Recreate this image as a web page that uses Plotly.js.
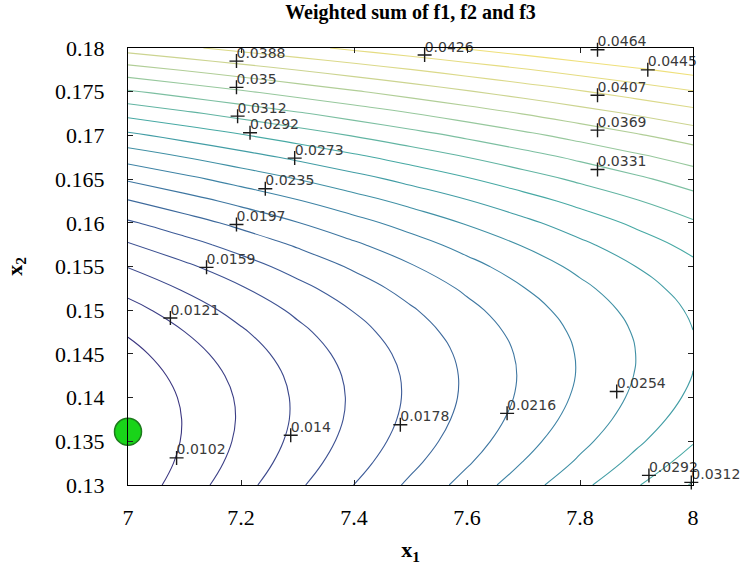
<!DOCTYPE html>
<html>
<head>
<meta charset="utf-8">
<script src="https://cdn.plot.ly/plotly-3.0.1.min.js"></script>
<style>
  html, body { margin: 0; padding: 0; background: #ffffff; }
  #chart { width: 741px; height: 565px; }
</style>
</head>
<body>
<div id="chart"></div>
<script>
// ---- Data ----
// Grid of x1 (columns) and x2 (rows)
const x1Grid = [7.0, 7.1, 7.2, 7.3, 7.4, 7.5, 7.6, 7.7, 7.8, 7.9, 8.0];
const x2Grid = [0.13, 0.1325, 0.135, 0.1375, 0.14, 0.1425, 0.145, 0.1475, 0.15, 0.1525,
                0.155, 0.1575, 0.16, 0.1625, 0.165, 0.1675, 0.17, 0.1725, 0.175, 0.1775, 0.18];
// Weighted-sum values estimated on the grid (row = x2, column = x1)
const zRows = [
  [0.00884, 0.01109, 0.01334, 0.01559, 0.01784, 0.02009, 0.02234, 0.02459, 0.02684, 0.02909, 0.03134],
  [0.00846, 0.01062, 0.01279, 0.01496, 0.01712, 0.01929, 0.02145, 0.02362, 0.02578, 0.02795, 0.03012],
  [0.00828, 0.01036, 0.01244, 0.01453, 0.01661, 0.01869, 0.02077, 0.02286, 0.02494, 0.02702, 0.02911],
  [0.00830, 0.01030, 0.01230, 0.01430, 0.01630, 0.01831, 0.02031, 0.02231, 0.02431, 0.02631, 0.02831],
  [0.00852, 0.01044, 0.01236, 0.01429, 0.01621, 0.01813, 0.02005, 0.02197, 0.02390, 0.02582, 0.02774],
  [0.00894, 0.01079, 0.01263, 0.01447, 0.01632, 0.01816, 0.02001, 0.02185, 0.02369, 0.02554, 0.02738],
  [0.00957, 0.01134, 0.01310, 0.01487, 0.01664, 0.01840, 0.02017, 0.02194, 0.02371, 0.02547, 0.02724],
  [0.01040, 0.01209, 0.01378, 0.01547, 0.01716, 0.01886, 0.02055, 0.02224, 0.02393, 0.02562, 0.02732],
  [0.01143, 0.01305, 0.01466, 0.01628, 0.01790, 0.01952, 0.02114, 0.02275, 0.02437, 0.02599, 0.02761],
  [0.01266, 0.01421, 0.01575, 0.01730, 0.01884, 0.02039, 0.02194, 0.02348, 0.02503, 0.02657, 0.02812],
  [0.01409, 0.01557, 0.01704, 0.01852, 0.01999, 0.02147, 0.02294, 0.02442, 0.02589, 0.02737, 0.02884],
  [0.01573, 0.01714, 0.01854, 0.01995, 0.02135, 0.02276, 0.02417, 0.02557, 0.02698, 0.02838, 0.02979],
  [0.01757, 0.01891, 0.02024, 0.02158, 0.02292, 0.02426, 0.02560, 0.02693, 0.02827, 0.02961, 0.03095],
  [0.01961, 0.02088, 0.02215, 0.02342, 0.02470, 0.02597, 0.02724, 0.02851, 0.02978, 0.03105, 0.03233],
  [0.02185, 0.02306, 0.02427, 0.02547, 0.02668, 0.02789, 0.02909, 0.03030, 0.03151, 0.03271, 0.03392],
  [0.02430, 0.02544, 0.02658, 0.02773, 0.02887, 0.03001, 0.03116, 0.03230, 0.03345, 0.03459, 0.03573],
  [0.02694, 0.02802, 0.02911, 0.03019, 0.03127, 0.03235, 0.03343, 0.03452, 0.03560, 0.03668, 0.03776],
  [0.02979, 0.03081, 0.03183, 0.03285, 0.03388, 0.03490, 0.03592, 0.03694, 0.03796, 0.03899, 0.04001],
  [0.03284, 0.03380, 0.03477, 0.03573, 0.03669, 0.03765, 0.03862, 0.03958, 0.04054, 0.04151, 0.04247],
  [0.03609, 0.03700, 0.03790, 0.03881, 0.03972, 0.04062, 0.04153, 0.04243, 0.04334, 0.04424, 0.04515],
  [0.03955, 0.04040, 0.04125, 0.04210, 0.04295, 0.04380, 0.04465, 0.04550, 0.04635, 0.04720, 0.04805]
];
// Contour levels (first, last, step)
const levelStart = 0.0102;
const levelEnd = 0.0464;
const levelStep = 0.0019053;

// Contour labels (clabel style: "+" marker with the level text)
const labelX1 = [7.086, 7.075, 7.288, 7.139, 7.482, 7.192, 7.671, 7.243, 7.865, 7.295, 7.216,
                 7.922, 7.194, 7.997, 7.831, 7.192, 7.831, 7.192, 7.831, 7.525, 7.920, 7.831];
const labelX2 = [0.1331, 0.1491, 0.1357, 0.1549, 0.1369, 0.1598, 0.1382, 0.1639, 0.1407, 0.1674, 0.1703,
                 0.1311, 0.1722, 0.1303, 0.1661, 0.1755, 0.1706, 0.1785, 0.1746, 0.1792, 0.1775, 0.1798];
const labelText = ["0.0102", "0.0121", "0.014", "0.0159", "0.0178", "0.0197", "0.0216", "0.0235", "0.0254",
                   "0.0273", "0.0292", "0.0292", "0.0312", "0.0312", "0.0331", "0.035", "0.0369", "0.0388",
                   "0.0407", "0.0426", "0.0445", "0.0464"];

// Optimum point (green dot)
const optX1 = [7.0];
const optX2 = [0.1361];

// Tick labels
const xTickVals = [7, 7.2, 7.4, 7.6, 7.8, 8];
const xTickText = ["7", "7.2", "7.4", "7.6", "7.8", "8"];
const yTickVals = [0.13, 0.135, 0.14, 0.145, 0.15, 0.155, 0.16, 0.165, 0.17, 0.175, 0.18];
const yTickText = ["0.13", "0.135", "0.14", "0.145", "0.15", "0.155", "0.16", "0.165", "0.17", "0.175", "0.18"];

// ---- Chart ----
const serif = "'Liberation Serif', 'Times New Roman', serif";

const contourTrace = {
  type: "contour",
  x: x1Grid,
  y: x2Grid,
  z: zRows,
  autocontour: false,
  contours: { coloring: "lines", start: levelStart, end: levelEnd, size: levelStep, showlabels: false },
  zauto: false,
  zmin: levelStart,
  zmax: levelEnd,
  colorscale: [
    [0.0, "#3b3680"],
    [0.2, "#3d5696"],
    [0.4, "#3e86a6"],
    [0.55, "#44a8a4"],
    [0.7, "#8cc6a0"],
    [0.85, "#d4d68e"],
    [1.0, "#efe07a"]
  ],
  line: { width: 1.1, smoothing: 1.3 },
  showscale: false,
  hoverinfo: "skip"
};

const crossTrace = {
  type: "scatter",
  mode: "markers",
  x: labelX1,
  y: labelX2,
  marker: { symbol: "cross-thin", size: 10, color: "#1a1a1a", line: { width: 1.4, color: "#1a1a1a" } },
  cliponaxis: false,
  showlegend: false,
  hoverinfo: "skip"
};

const textTrace = {
  type: "scatter",
  mode: "text",
  x: labelX1,
  y: labelX2,
  text: labelText,
  textposition: "top right",
  textfont: { family: "'DejaVu Sans', sans-serif", size: 14, color: "#3a3a3a" },
  cliponaxis: false,
  showlegend: false,
  hoverinfo: "skip"
};

const optTrace = {
  type: "scatter",
  mode: "markers",
  x: optX1,
  y: optX2,
  marker: { symbol: "circle", size: 27, color: "#19d419", line: { width: 1.5, color: "#1c7a1c" } },
  cliponaxis: false,
  showlegend: false,
  hoverinfo: "skip"
};

const layout = {
  width: 741,
  height: 565,
  margin: { l: 128, r: 48, t: 48, b: 80, pad: 0 },
  paper_bgcolor: "#ffffff",
  plot_bgcolor: "#ffffff",
  showlegend: false,
  title: {
    text: "<b>Weighted sum of f1, f2 and f3</b>",
    font: { family: serif, size: 20, color: "#000000" },
    x: 0.554, xanchor: "center",
    y: 0.978, yanchor: "middle"
  },
  xaxis: {
    range: [7, 8],
    tickvals: xTickVals,
    ticktext: xTickText,
    ticks: "inside",
    ticklen: 5,
    tickcolor: "#222",
    showline: true,
    linecolor: "#000",
    linewidth: 1.2,
    mirror: "ticks",
    showgrid: false,
    zeroline: false,
    ticklabelstandoff: 12,
    tickfont: { family: serif, size: 22, color: "#000" },
    title: { text: "<b>x<sub>1</sub></b>", font: { family: serif, size: 22, color: "#000" }, standoff: 18 }
  },
  yaxis: {
    range: [0.13, 0.18],
    tickvals: yTickVals,
    ticktext: yTickText,
    ticks: "inside",
    ticklen: 5,
    tickcolor: "#222",
    showline: true,
    linecolor: "#000",
    linewidth: 1.2,
    mirror: "ticks",
    showgrid: false,
    zeroline: false,
    ticklabelstandoff: 18,
    tickfont: { family: serif, size: 22, color: "#000" },
    title: { text: "<b>x<sub>2</sub></b>", font: { family: serif, size: 22, color: "#000" }, standoff: 26 }
  }
};

Plotly.newPlot("chart", [contourTrace, crossTrace, textTrace, optTrace], layout, { displayModeBar: false, staticPlot: true });
</script>
</body>
</html>
